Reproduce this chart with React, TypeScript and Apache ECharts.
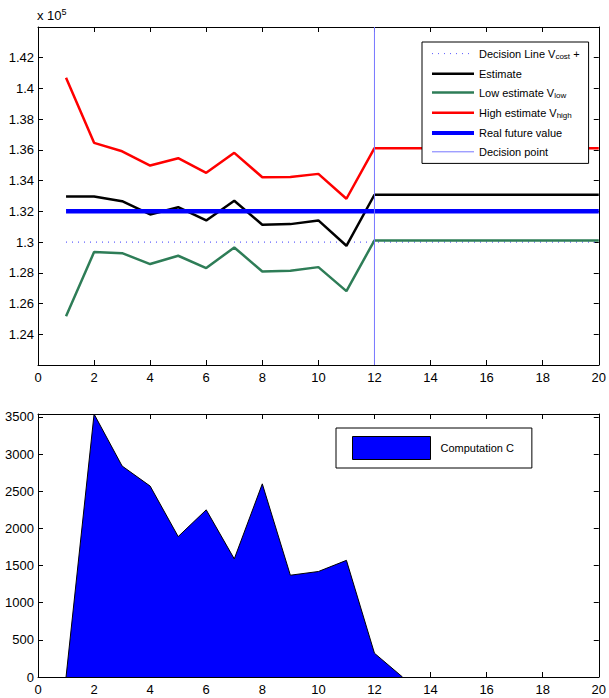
import React, { useEffect, useRef } from 'react';
import * as echarts from 'echarts';

const FONT = 'Liberation Sans, Arial, Helvetica, sans-serif';

// Top chart (values in units, axis shown as x 10^5)
const steps = [1, 2, 3, 4, 5, 6, 7, 8, 9, 10, 11, 12, 13, 14, 15, 16, 17, 18, 19, 20];
const decisionLine = [130000, 130000, 130000, 130000, 130000, 130000, 130000, 130000, 130000, 130000, 130000, 130000, 130000, 130000, 130000, 130000, 130000, 130000, 130000, 130000];
const estimate = [132970, 132970, 132660, 131800, 132270, 131410, 132690, 131130, 131170, 131410, 129760, 133080, 133080, 133080, 133080, 133080, 133080, 133080, 133080, 133080];
const lowEstimate = [125170, 129350, 129280, 128570, 129110, 128310, 129650, 128090, 128140, 128370, 126810, 130110, 130110, 130110, 130110, 130110, 130110, 130110, 130110, 130110];
const highEstimate = [140700, 136460, 135910, 134980, 135460, 134510, 135810, 134220, 134240, 134440, 132820, 136110, 136110, 136110, 136110, 136110, 136110, 136110, 136110, 136110];
const realFuture = [132000, 132000, 132000, 132000, 132000, 132000, 132000, 132000, 132000, 132000, 132000, 132000, 132000, 132000, 132000, 132000, 132000, 132000, 132000, 132000];
const decisionStep = 12;
const topYMin = 122000;
const topYMax = 144000;
const topYInterval = 2000;

// Bottom chart
const compSteps = [1, 2, 3, 4, 5, 6, 7, 8, 9, 10, 11, 12, 13];
const computation = [0, 3540, 2840, 2570, 1890, 2250, 1590, 2600, 1370, 1420, 1570, 320, 0];
const botYMax = 3540;

const names = {
  decision: 'Decision Line Vcost +',
  estimate: 'Estimate',
  low: 'Low estimate Vlow',
  high: 'High estimate Vhigh',
  real: 'Real future value',
  point: 'Decision point',
  comp: 'Computation C',
};

const zip = (xs: number[], ys: number[]) => xs.map((x, i) => [x, ys[i]]);

function axisBase(extra: any) {
  return {
    type: 'value',
    axisLine: { show: true, onZero: false, lineStyle: { color: '#000', width: 1 } },
    axisTick: { show: true, inside: true, length: 5, lineStyle: { color: '#000', width: 1 } },
    splitLine: { show: false },
    axisLabel: { color: '#000', fontSize: 13, fontFamily: FONT, margin: 6 },
    ...extra,
  };
}

export default function App() {
  const ref = useRef<HTMLDivElement>(null);
  useEffect(() => {
    const chart = echarts.init(ref.current!, null, { renderer: 'svg' });
    const richText = {
      n: { fontSize: 11, lineHeight: 14, fontFamily: FONT, color: '#000' },
      s: { fontSize: 8, lineHeight: 6, verticalAlign: 'bottom', fontFamily: FONT, color: '#000' },
    };
    const option: any = {
      animation: false,
      backgroundColor: '#fff',
      grid: [
        { left: 38, right: 7, top: 27, height: 338 },
        { left: 38, right: 7, top: 414, height: 263 },
      ],
      xAxis: [
        axisBase({ gridIndex: 0, position: 'bottom', min: 0, max: 20, interval: 2 }),
        axisBase({ gridIndex: 0, position: 'top', min: 0, max: 20, interval: 2, axisLabel: { show: false } }),
        axisBase({ gridIndex: 1, position: 'bottom', min: 0, max: 20, interval: 2 }),
        axisBase({ gridIndex: 1, position: 'top', min: 0, max: 20, interval: 2, axisLabel: { show: false } }),
      ],
      yAxis: [
        axisBase({
          gridIndex: 0, position: 'left', min: topYMin, max: topYMax, interval: topYInterval,
          axisLabel: {
            color: '#000', fontSize: 13, fontFamily: FONT, margin: 4,
            showMinLabel: false, showMaxLabel: false,
            formatter: (v: number) => String(parseFloat((v / 1e5).toFixed(2))),
          },
        }),
        axisBase({ gridIndex: 0, position: 'right', min: topYMin, max: topYMax, interval: topYInterval, axisLabel: { show: false } }),
        axisBase({
          gridIndex: 1, position: 'left', min: 0, max: botYMax, interval: 500,
          axisLabel: {
            color: '#000', fontSize: 13, fontFamily: FONT, margin: 4, showMaxLabel: false,
            formatter: (v: number) => String(v),
          },
        }),
        axisBase({ gridIndex: 1, position: 'right', min: 0, max: botYMax, interval: 500, axisLabel: { show: false } }),
      ],
      legend: [
        {
          left: 422, top: 42, orient: 'vertical',
          itemWidth: 42, itemHeight: 14, itemGap: 7.6,
          padding: [6, 9, 6, 8],
          borderColor: '#000', borderWidth: 1, borderRadius: 0, backgroundColor: '#fff',
          selectedMode: false,
          itemStyle: { opacity: 0 },
          data: [
            { name: names.decision, lineStyle: { width: 1 } },
            { name: names.estimate, lineStyle: { width: 2.5 } },
            { name: names.low, lineStyle: { width: 2.5 } },
            { name: names.high, lineStyle: { width: 2.5 } },
            { name: names.real, lineStyle: { width: 4 } },
            { name: names.point, lineStyle: { width: 1 } },
          ],
          textStyle: { rich: richText },
          formatter: (name: string) => {
            if (name === names.decision) return '{n|Decision Line V}{s|cost}{n| +}';
            if (name === names.low) return '{n|Low estimate V}{s|low}';
            if (name === names.high) return '{n|High estimate V}{s|high}';
            return '{n|' + name + '}';
          },
        },
        {
          left: 336, top: 428, orient: 'vertical',
          itemWidth: 78, itemHeight: 23,
          padding: [8, 18, 8, 16],
          borderColor: '#000', borderWidth: 1, borderRadius: 0, backgroundColor: '#fff',
          selectedMode: false,
          icon: 'rect',
          itemStyle: { color: '#0000ff', borderColor: '#000', borderWidth: 1 },
          data: [names.comp],
          textStyle: { fontSize: 11, fontFamily: FONT, color: '#000', padding: [0, 0, 0, 5] },
        },
      ],
      graphic: [
        {
          type: 'text', left: 37, top: 7,
          style: {
            text: '{a|x 10}{b|5}',
            rich: {
              a: { fontSize: 13, fontFamily: FONT, fill: '#000', lineHeight: 17 },
              b: { fontSize: 9, fontFamily: FONT, fill: '#000', verticalAlign: 'top', lineHeight: 8 },
            },
          },
        },
      ],
      series: [
        {
          name: names.decision, type: 'line', xAxisIndex: 0, yAxisIndex: 0, symbol: 'none',
          data: zip(steps, decisionLine), color: '#5a5aff',
          lineStyle: { color: '#5a5aff', width: 1.2, type: [1, 5] },
        },
        {
          name: names.estimate, type: 'line', xAxisIndex: 0, yAxisIndex: 0, symbol: 'none',
          data: zip(steps, estimate), color: '#000',
          lineStyle: { color: '#000', width: 2.5 },
        },
        {
          name: names.low, type: 'line', xAxisIndex: 0, yAxisIndex: 0, symbol: 'none',
          data: zip(steps, lowEstimate), color: '#2e7d57',
          lineStyle: { color: '#2e7d57', width: 2.5 },
        },
        {
          name: names.high, type: 'line', xAxisIndex: 0, yAxisIndex: 0, symbol: 'none',
          data: zip(steps, highEstimate), color: '#ff0000',
          lineStyle: { color: '#ff0000', width: 2.5 },
        },
        {
          name: names.real, type: 'line', xAxisIndex: 0, yAxisIndex: 0, symbol: 'none',
          data: zip(steps, realFuture), color: '#0000ff',
          lineStyle: { color: '#0000ff', width: 4.5 },
        },
        {
          name: names.point, type: 'line', xAxisIndex: 0, yAxisIndex: 0, symbol: 'none',
          data: [[decisionStep, topYMin], [decisionStep, topYMax]], color: '#7777ff',
          lineStyle: { color: '#7777ff', width: 1 },
        },
        {
          name: names.comp, type: 'line', xAxisIndex: 2, yAxisIndex: 2, symbol: 'none',
          data: zip(compSteps, computation), color: '#0000ff',
          lineStyle: { color: '#000', width: 1 },
          areaStyle: { color: '#0000ff', opacity: 1 },
        },
      ],
    };
    chart.setOption(option);
    return () => chart.dispose();
  }, []);
  return (
    <div
      ref={ref}
      style={{ position: 'fixed', left: 0, top: 0, width: 609, height: 698, background: '#fff' }}
    />
  );
}
